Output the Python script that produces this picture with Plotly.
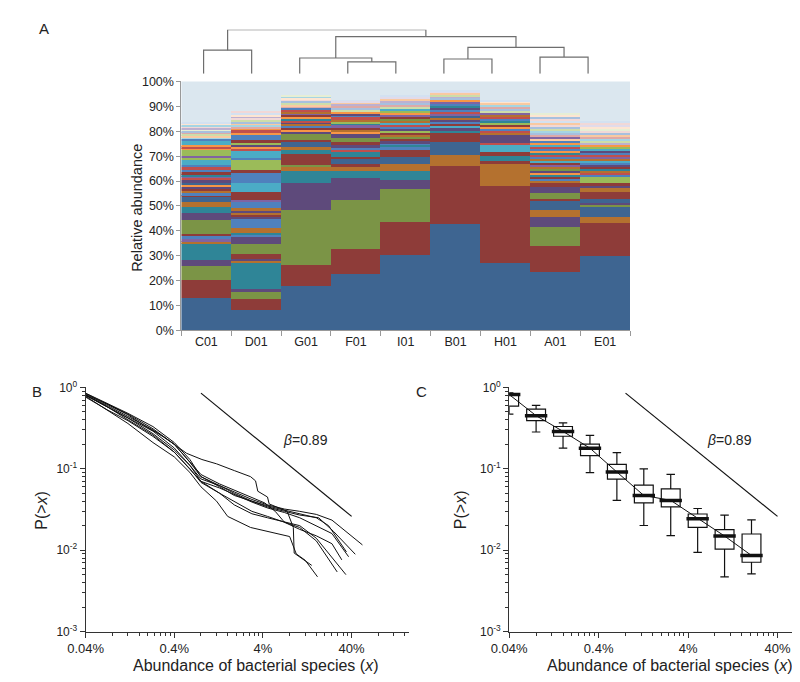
import numpy as np
import plotly.graph_objects as go

# ---------------- Panel A data ----------------
samples = ["C01", "D01", "G01", "F01", "I01", "B01", "H01", "A01", "E01"]

# cumulative top of each stacked segment (%), bottom -> top
C01_tops = [12.8, 20.0, 25.6, 28.1, 34.8, 35.6, 36.4, 37.6, 38.7, 44.3,
            46.9, 49.4, 51.4, 53.3, 54.2, 55.0, 55.9, 56.7, 57.5, 58.3,
            59.2, 60.1, 61.0, 61.8, 62.6, 63.4, 64.3, 65.3, 66.2, 68.4,
            69.2, 70.0, 72.3, 73.0, 73.7, 74.4, 75.8, 76.8, 77.5, 78.2,
            78.9, 79.5, 80.1, 80.7, 81.3, 81.9, 82.5, 83.0, 83.5]
C01_taxa = "BRGPTOpbRG" "PTOBRbORPo" "BPrpTRbrbt" "gpgorotb56" "3219485y7"

D01_tops = [8.2, 12.4, 15.4, 16.5, 26.8, 27.8, 28.4, 30.5, 34.4, 37.4,
            38.2, 38.9, 40.9, 44.8, 45.6, 46.3, 47.0, 47.7, 49.0, 51.8,
            52.4, 55.6, 59.2, 63.1, 64.4, 68.1, 69.0, 72.0, 72.8, 73.5,
            74.3, 75.5, 76.3, 78.5, 79.3, 80.2, 81.0, 81.7, 82.4, 83.1,
            83.8, 84.5, 85.2, 85.9, 86.6, 87.3, 88.0]
D01_taxa = "BRGPTOPRGP" "bTObPROPOb" "pRtbRgbtro" "PgRboro256" "1384y78"

G01_tops = [17.6, 26.0, 48.3, 59.1, 63.7, 65.4, 66.3, 70.6, 72.3, 73.3,
            75.6, 76.5, 78.9, 79.7, 80.5, 81.2, 82.0, 82.8, 83.5, 84.2,
            85.0, 85.7, 86.4, 87.1, 87.8, 88.5, 89.2, 89.9, 90.6, 91.3,
            92.0, 92.7, 93.3, 93.9, 94.5]
G01_taxa = "BRGPTOGRTO" "BRGPoRbOPr" "ToRpOrb263" "18y59"

F01_tops = [22.4, 32.4, 52.4, 61.2, 63.8, 65.8, 66.5, 68.6, 69.6, 71.5,
            72.3, 73.2, 74.2, 75.4, 77.1, 78.9, 79.8, 80.6, 81.4, 82.2,
            83.0, 83.8, 84.6, 85.4, 86.2, 87.0, 87.8, 88.6, 89.4, 90.1,
            90.8, 91.5, 92.0, 92.5]
F01_taxa = "BRGPTORBRT" "rbPRGPoORp" "TgOrbPo312" "4607"

I01_tops = [30.2, 43.5, 56.6, 60.3, 63.8, 66.8, 69.6, 72.5, 73.3, 74.2,
            75.0, 75.8, 76.8, 77.6, 78.4, 79.2, 80.1, 80.9, 81.7, 82.5,
            83.3, 84.1, 84.9, 85.7, 86.5, 87.3, 88.1, 88.9, 89.7, 90.5,
            91.3, 92.1, 92.9, 93.7, 94.5]
I01_taxa = "BRGPTOBRbT" "bPRGORgPbr" "tOGRpogt32" "14607"

B01_tops = [42.5, 65.8, 70.3, 75.5, 79.1, 80.1, 81.0, 82.0, 82.8, 83.6,
            84.4, 85.2, 86.0, 86.8, 87.6, 88.4, 89.2, 90.0, 90.8, 91.6,
            92.4, 93.2, 93.9, 94.6, 95.2, 95.8, 96.4]
B01_taxa = "BROBRTPtRb" "POBprbPTbp" "o143607"

H01_tops = [26.8, 57.9, 66.8, 67.8, 69.8, 71.4, 74.4, 75.3, 78.2, 79.2,
            80.0, 80.8, 81.6, 82.4, 83.2, 84.0, 84.8, 85.6, 86.4, 87.2,
            88.0, 88.8, 89.6, 90.4, 91.2, 91.9, 92.5]
H01_taxa = "BRORTRtrPO" "rboRgTbrOp" "31256y7"

A01_tops = [23.3, 33.7, 41.2, 45.5, 48.1, 52.0, 52.7, 55.0, 57.3, 59.2,
            60.0, 60.8, 61.6, 62.4, 63.2, 64.0, 64.8, 65.6, 66.4, 67.2,
            68.0, 68.8, 69.6, 70.4, 71.2, 72.0, 72.8, 73.6, 74.4, 75.2,
            76.0, 76.8, 77.6, 78.4, 79.2, 80.0, 80.8, 81.6, 82.4, 83.2,
            84.0, 84.8, 85.6, 86.4, 87.0]
A01_taxa = "BRGPOBRGPR" "ObRToPGOpR" "tObrTobrto" "b6p2153186" "781y9"

E01_tops = [29.8, 42.9, 45.5, 49.4, 50.3, 51.1, 52.6, 55.5, 57.3, 58.1,
            58.9, 61.5, 62.3, 63.0, 64.0, 64.8, 65.6, 66.4, 67.2, 68.0,
            68.8, 69.6, 70.4, 71.2, 72.0, 72.8, 73.6, 74.4, 75.2, 76.0,
            76.8, 77.6, 78.4, 79.2, 80.0, 80.8, 81.6, 82.4, 83.2, 84.0]
E01_taxa = "BROBGPBROP" "RgbrOTRPbt" "OprbPtgo43" "526189y087"

y_pct_ticks = list(range(0, 101, 10))
y_pct_text = [f"{v}%" for v in y_pct_ticks]

# dendrogram: leaves in plotted order, merges (left node, right node, height)
dendro_leaves = ["C01", "D01", "G01", "F01", "I01", "B01", "H01", "A01", "E01"]
dendro_merges = [("C01", "D01", 24), ("F01", "I01", 12), ("G01", "FI", 16),
                 ("B01", "H01", 15), ("A01", "E01", 17), ("BH", "AE", 27),
                 ("GFI", "BHAE", 38), ("CD", "GFIBHAE", 45)]
dendro_names = ["CD", "FI", "GFI", "BH", "AE", "BHAE", "GFIBHAE", "ROOT"]

# ---------------- Panel B data ----------------
# CCDF curves for nine samples: abundance (%) vs P(>x)
curve_x = [
    [0.04, 0.07, 0.12, 0.2, 0.3, 0.4, 0.55, 0.82, 1.2, 1.9, 2.9, 3.3, 3.5, 4.5, 4.7, 7.5, 8.8, 9.0, 14.2],
    [0.04, 0.07, 0.12, 0.23, 0.4, 0.6, 0.8, 1.3, 1.9, 3, 4.5, 7, 10.4, 16, 24, 53],
    [0.04, 0.07, 0.12, 0.23, 0.4, 0.6, 0.8, 1.3, 1.9, 3, 4.5, 7, 10.4, 17, 25, 44],
    [0.04, 0.07, 0.12, 0.23, 0.4, 0.6, 0.8, 1.3, 1.9, 3, 4.5, 7, 10.4, 16, 24, 37],
    [0.04, 0.07, 0.12, 0.23, 0.4, 0.6, 0.8, 1.3, 1.9, 3, 4.2, 5.5, 7, 10.4, 16, 24, 31],
    [0.04, 0.07, 0.12, 0.23, 0.4, 0.6, 0.8, 1.3, 1.9, 3, 4.5, 7, 10.4, 16, 34.5],
    [0.04, 0.07, 0.12, 0.23, 0.4, 0.6, 0.8, 1.2, 1.6, 2.9, 4.5, 8, 9.5, 12, 16.5],
    [0.04, 0.07, 0.12, 0.23, 0.4, 0.6, 0.8, 1.3, 1.9, 3, 4.5, 7, 10.4, 16, 27.5],
    [0.04, 0.07, 0.12, 0.23, 0.4, 0.6, 0.8, 1.3, 1.9, 3, 4.5, 7, 10.4, 16, 22, 35],
]
curve_y = [
    [0.82, 0.62, 0.46, 0.32, 0.25, 0.2, 0.155, 0.13, 0.115, 0.095, 0.08, 0.071, 0.053, 0.045, 0.037, 0.03, 0.019, 0.0092, 0.0065],
    [0.8, 0.58, 0.43, 0.29, 0.18, 0.11, 0.075, 0.062, 0.052, 0.042, 0.036, 0.032, 0.03, 0.0275, 0.0234, 0.0116],
    [0.84, 0.63, 0.47, 0.31, 0.2, 0.12, 0.08, 0.062, 0.05, 0.04, 0.034, 0.03, 0.027, 0.025, 0.017, 0.0089],
    [0.76, 0.53, 0.39, 0.25, 0.16, 0.1, 0.07, 0.058, 0.048, 0.039, 0.033, 0.029, 0.025, 0.02, 0.016, 0.0083],
    [0.8, 0.6, 0.44, 0.3, 0.2, 0.12, 0.085, 0.065, 0.055, 0.045, 0.038, 0.03, 0.022, 0.018, 0.015, 0.012, 0.0076],
    [0.81, 0.58, 0.4, 0.26, 0.16, 0.1, 0.068, 0.05, 0.036, 0.028, 0.025, 0.022, 0.02, 0.014, 0.005],
    [0.78, 0.52, 0.36, 0.21, 0.14, 0.09, 0.06, 0.04, 0.026, 0.019, 0.017, 0.0147, 0.009, 0.0075, 0.0047],
    [0.8, 0.57, 0.42, 0.27, 0.17, 0.11, 0.07, 0.05, 0.04, 0.03, 0.026, 0.022, 0.019, 0.013, 0.0054],
    [0.85, 0.64, 0.48, 0.33, 0.21, 0.13, 0.08, 0.06, 0.047, 0.04, 0.035, 0.031, 0.028, 0.025, 0.02, 0.0095],
]
ref_x = [0.8, 40]
ref_y = [0.85, 0.026]

# ---------------- Panel C data ----------------
bin_x = [0.04, 0.08, 0.16, 0.32, 0.64, 1.28, 2.56, 5.12, 10.24, 20.48]
box_low = [0.47, 0.283, 0.179, 0.0895, 0.0409, 0.0201, 0.0151, 0.0094, 0.0047, 0.0051]
box_q1 = [0.59, 0.39, 0.251, 0.145, 0.0745, 0.038, 0.034, 0.019, 0.0103, 0.0071]
box_med = [0.817, 0.449, 0.288, 0.179, 0.0912, 0.047, 0.0409, 0.0244, 0.0149, 0.0086]
box_q3 = [0.83, 0.54, 0.331, 0.201, 0.113, 0.063, 0.0565, 0.0278, 0.0179, 0.0158]
box_high = [0.855, 0.60, 0.366, 0.258, 0.158, 0.10, 0.0855, 0.0325, 0.027, 0.0235]

x_tick_vals = [0.04, 0.4, 4, 40]
x_tick_text = ["0.04%", "0.4%", "4%", "40%"]
y_tick_vals = [1, 0.1, 0.01, 0.001]
y_tick_text = ["10<sup>0</sup>", "10<sup>-1</sup>", "10<sup>-2</sup>", "10<sup>-3</sup>"]

# ---------------- styles ----------------
FONT = "Liberation Sans, Arial, sans-serif"
palette = {
    'B': '#3e6591', 'R': '#8e3c39', 'G': '#7b9446', 'P': '#5e4a7b', 'T': '#2f8597', 'O': '#b4712f',
    'b': '#4f81bd', 'r': '#c0504d', 'g': '#9bbb59', 'p': '#8064a2', 't': '#4bacc6', 'o': '#f79646',
    '1': '#a7c0de', '2': '#dda9a7', '3': '#cddda9', '4': '#bdb0d0', '5': '#a5d5e3', '6': '#f9c9a1',
    '7': '#d3e1f1', '8': '#f1d8d7', '9': '#e6eed5', '0': '#e1dbea', 'y': '#fde5d2',
}
BG_SEG = '#dbe7ef'
W, H = 800, 682


def px(x):
    return x / W


def py(y):
    return 1 - y / H


fig = go.Figure()

# ---- Panel A stacked bars ----
all_tops = [C01_tops, D01_tops, G01_tops, F01_tops, I01_tops, B01_tops, H01_tops, A01_tops, E01_tops]
all_taxa = [C01_taxa, D01_taxa, G01_taxa, F01_taxa, I01_taxa, B01_taxa, H01_taxa, A01_taxa, E01_taxa]
thick = [np.diff(np.concatenate([[0.0], t])) for t in all_tops]
n_layers = max(len(t) for t in thick)
for j in range(n_layers):
    yv, cv = [], []
    for i in range(len(samples)):
        n = min(len(thick[i]), len(all_taxa[i]))
        if j < n:
            yv.append(float(thick[i][j]))
            cv.append(palette[all_taxa[i][j]])
        else:
            yv.append(0.0)
            cv.append(BG_SEG)
    fig.add_trace(go.Bar(x=samples, y=yv, marker=dict(color=cv, line=dict(width=0)),
                         xaxis='x', yaxis='y', hoverinfo='skip'))
rest = [100 - t[-1] for t in all_tops]
fig.add_trace(go.Bar(x=samples, y=rest, marker=dict(color=BG_SEG, line=dict(width=0)),
                     xaxis='x', yaxis='y', hoverinfo='skip'))

# ---- dendrogram ----
node_x = {name: float(i) for i, name in enumerate(dendro_leaves)}
node_h = {name: 0.0 for name in dendro_leaves}
dx, dy = [], []
for (l, r, h), name in zip(dendro_merges, dendro_names):
    dx += [node_x[l], node_x[l], node_x[r], node_x[r], None]
    dy += [node_h[l], h, h, node_h[r], None]
    node_x[name] = (node_x[l] + node_x[r]) / 2
    node_h[name] = h
fig.add_trace(go.Scatter(x=dx, y=dy, mode='lines', line=dict(color='#6e6e6e', width=1.2),
                         xaxis='x3', yaxis='y3', hoverinfo='skip'))

# ---- Panel B ----
for cx, cy in zip(curve_x, curve_y):
    fig.add_trace(go.Scatter(x=cx, y=cy, mode='lines', line=dict(color='#111', width=1),
                             xaxis='x2', yaxis='y2', hoverinfo='skip'))
fig.add_trace(go.Scatter(x=ref_x, y=ref_y, mode='lines', line=dict(color='#111', width=1.2),
                         xaxis='x2', yaxis='y2', hoverinfo='skip'))

# ---- Panel C ----
fig.add_trace(go.Box(x=bin_x, q1=box_q1, median=box_med, q3=box_q3,
                     lowerfence=box_low, upperfence=box_high, orientation='v',
                     fillcolor='white', line=dict(color='#111', width=1.2),
                     whiskerwidth=0.45, xaxis='x4', yaxis='y4', hoverinfo='skip'))
fig.add_trace(go.Scatter(x=bin_x, y=box_med, mode='lines', line=dict(color='#111', width=1),
                         xaxis='x4', yaxis='y4', hoverinfo='skip'))
fig.add_trace(go.Scatter(x=bin_x, y=box_med, mode='markers',
                         marker=dict(symbol='line-ew', size=16, line=dict(color='#111', width=3.5)),
                         xaxis='x4', yaxis='y4', hoverinfo='skip', cliponaxis=True))
fig.add_trace(go.Scatter(x=ref_x, y=ref_y, mode='lines', line=dict(color='#111', width=1.2),
                         xaxis='x4', yaxis='y4', hoverinfo='skip'))

# ---------------- axes ----------------
minor_x = [0.04 * k * 10 ** n for n in range(0, 4) for k in range(2, 10)]
minor_y = [k * 10.0 ** n for n in range(-3, 0) for k in range(2, 10)]

tickfont = dict(family=FONT, size=12.5, color='#222')
logx_common = dict(type='log', tickvals=x_tick_vals, ticktext=x_tick_text, ticks='outside', ticklen=5,
                   tickcolor='#333', showline=True, linecolor='#333', linewidth=1, showgrid=False,
                   zeroline=False, tickfont=dict(family=FONT, size=13, color='#222'),
                   minor=dict(tickvals=minor_x, ticks='outside', ticklen=3, tickcolor='#333', showgrid=False))
logy_common = dict(type='log', range=[-3, 0], tickvals=y_tick_vals, ticktext=y_tick_text, ticks='outside',
                   ticklen=5, tickcolor='#333', showline=True, linecolor='#333', linewidth=1, showgrid=False,
                   zeroline=False, tickfont=dict(family=FONT, size=12, color='#222'),
                   minor=dict(tickvals=minor_y, ticks='outside', ticklen=3, tickcolor='#333', showgrid=False))

fig.update_layout(
    width=W, height=H, margin=dict(l=0, r=0, t=0, b=0),
    paper_bgcolor='white', plot_bgcolor='white', showlegend=False,
    barmode='stack', bargap=0, boxgap=0.3, boxgroupgap=0,
    font=dict(family=FONT, color='#222'),
    xaxis=dict(domain=[px(159), px(618)], anchor='y', type='category', range=[-0.5, 8.5],
               ticks='outside', tickson='boundaries', ticklen=5, tickcolor='#999',
               showline=True, linecolor='#999', showgrid=False, tickfont=tickfont),
    yaxis=dict(domain=[py(321), py(66)], anchor='x', range=[0, 100], tickvals=y_pct_ticks,
               ticktext=y_pct_text, ticks='outside', ticklen=4, tickcolor='#999', showline=True,
               linecolor='#999', showgrid=False, zeroline=False, tickfont=tickfont),
    xaxis3=dict(domain=[px(157.1), px(599.6)], anchor='y3', range=[-0.5, 8.5], visible=False),
    yaxis3=dict(domain=[py(58), py(13)], anchor='x3', range=[0, 45], visible=False),
    xaxis2=dict(domain=[px(61), px(391.7)], anchor='y2', range=[np.log10(0.04), 2.248], **logx_common),
    yaxis2=dict(domain=[py(629.3), py(379.3)], anchor='x2', **logy_common),
    xaxis4=dict(domain=[px(494.3), px(796.7)], anchor='y4', range=[np.log10(0.04), 1.907], **logx_common),
    yaxis4=dict(domain=[py(629.3), py(379.3)], anchor='x4', **logy_common),
)


def ann(text, x, y, size, angle=0, xanchor='center', yanchor='middle'):
    fig.add_annotation(text=text, x=px(x), y=py(y), xref='paper', yref='paper', showarrow=False,
                       textangle=angle, xanchor=xanchor, yanchor=yanchor,
                       font=dict(family=FONT, size=size, color='#222'))


ann("A", 18, 12, 15)
ann("B", 11, 383, 15)
ann("C", 405, 383, 15)
ann("Relative abundance", 114, 195, 14.5, angle=-90)
ann("P(&gt;<i>x</i>)", 16, 505, 16, angle=-90)
ann("P(&gt;<i>x</i>)", 444, 505, 16, angle=-90)
ann("Abundance of bacterial species (<i>x</i>)", 235, 664, 16)
ann("Abundance of bacterial species (<i>x</i>)", 658, 664, 16)
ann("<i>β</i>=0.89", 286, 433, 14)
ann("<i>β</i>=0.89", 720, 433, 14)

fig.write_html("out.html")
